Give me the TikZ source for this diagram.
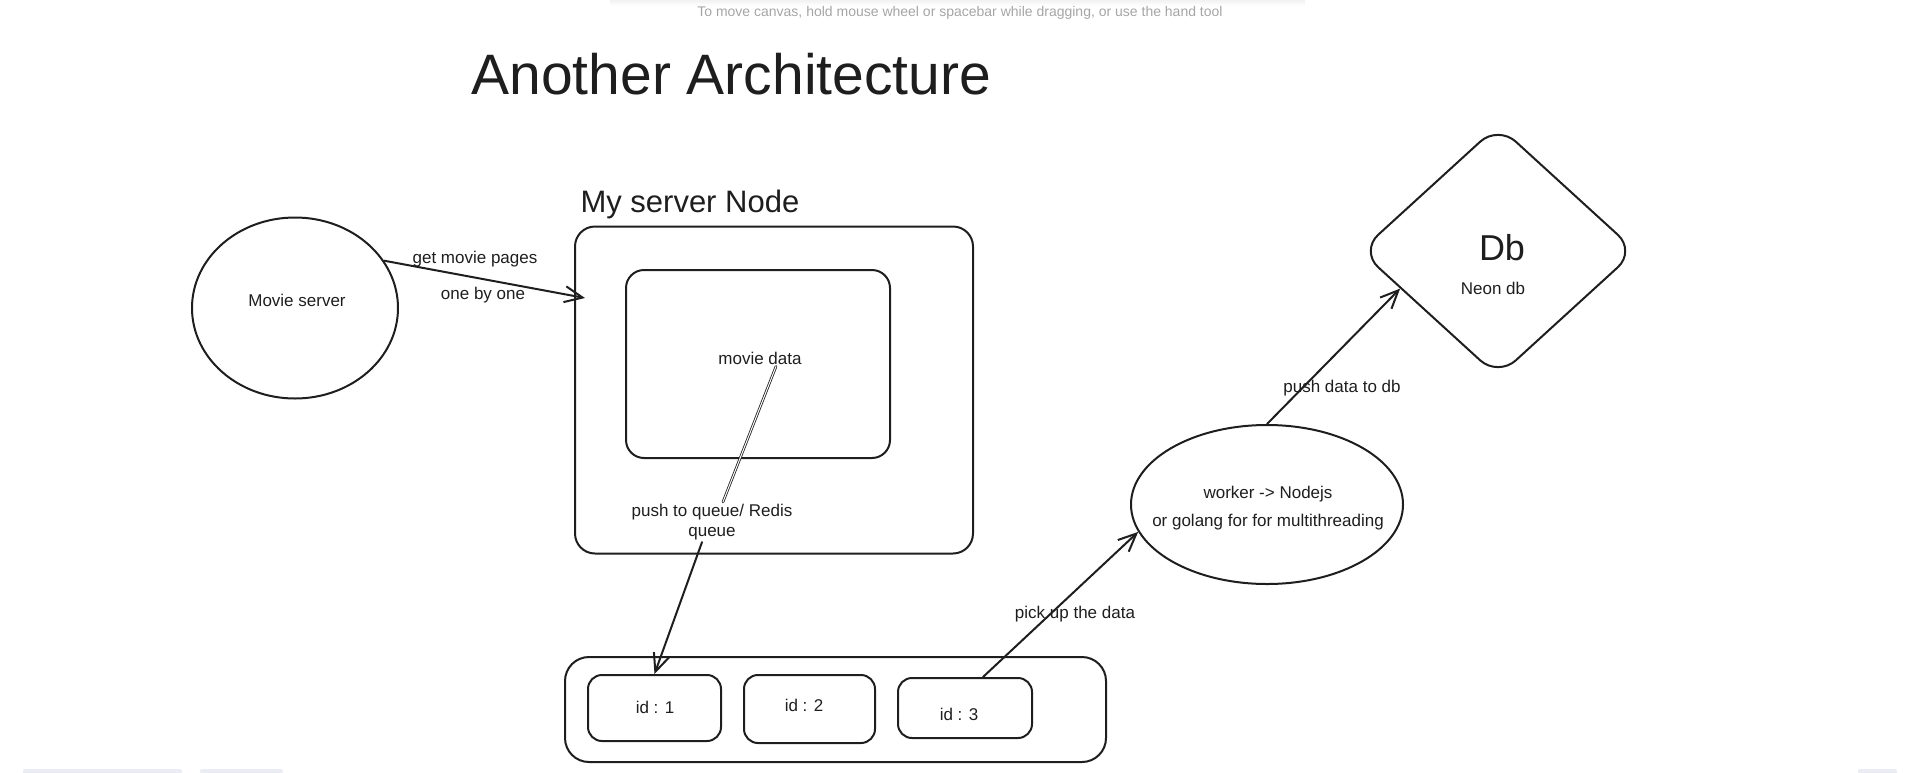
\documentclass[tikz,border=0pt]{standalone}
\usepackage{fontspec}
\setmainfont{Liberation Sans}
\usetikzlibrary{shapes.geometric,arrows.meta}
\definecolor{ink}{RGB}{30,30,30}
\definecolor{hintgray}{RGB}{165,165,165}
\definecolor{barlav}{RGB}{236,236,244}
\tikzset{
  box/.style={draw=ink, line width=2pt, rounded corners=18pt},
  blob/.style={draw=ink, line width=2pt, ellipse},
  lbl/.style={text=ink, align=center, inner sep=2pt, font=\fontsize{17}{20}\selectfont},
  link/.style={draw=ink, line width=2pt}
}
\begin{document}
\begin{tikzpicture}
[x=1pt, y=-1pt, line join=round, line cap=round, >={Straight Barb[length=18pt,width=16pt]}]
\useasboundingbox (0,0) rectangle (1920,772);
% canvas bits
\shade[top color=black!5, bottom color=white] (610,0) rectangle (1305,6);
\foreach \a/\b in {23/182,200/283,1858/1897}
\fill[barlav, rounded corners=2pt] (\a,769) rectangle (\b,780);
\node[text=hintgray, font=\fontsize{14}{16}\selectfont] (hint) at (960,13) {To move canvas, hold mouse wheel or spacebar while dragging, or use the hand tool};
\node[anchor=base west, text=ink, font=\fontsize{57}{60}\selectfont] (title) at (468,94) {Another Architecture};

% movie server
\node[blob, minimum width=206pt, minimum height=181pt] (msrv) at (295,308) {};
\node[lbl] (msrvt) at (297,300) {Movie server};

% my server node
\node[anchor=base west, text=ink, font=\fontsize{31}{34}\selectfont] (srvt) at (577,212) {My server Node};
\node[box, rounded corners=20pt, minimum width=398pt, minimum height=327pt] (srv) at (774,390) {};
\node[box, minimum width=264pt, minimum height=188pt] (mdbox) at (758,364) {};
\node[lbl] (mdata) at (760,358) {movie data};
\node[lbl, font=\fontsize{17}{20}\selectfont] (pushq) at (712,522) {push to queue/ Redis\\queue};
\coordinate (gettip) at (585,298);
\draw[link, ->] (msrv.28) -- (gettip);
\node[lbl] (getl) at (475,259) {get movie pages};
\node[lbl] (onel) at (483,295) {one by one};
\draw[ink, line width=0.8pt, double=white, double distance=1pt] ([xshift=16pt]mdata.south) -- ([xshift=11pt]pushq.north);

% queue
\node[box, rounded corners=24pt, minimum width=541pt, minimum height=105pt] (queue) at (835.5,709.5) {};
\foreach \i/\cx/\cy/\w/\h/\tx/\ty in {1/654.5/708/133/66/655/707, 2/809.5/709/131/68/804/705, 3/965/708/134/60/959/714}{
\node[box, rounded corners=14pt, minimum width=\w pt, minimum height=\h pt] (id\i) at (\cx,\cy) {};
\node[lbl] (idt\i) at (\tx,\ty) {id : \i};
}
\draw[link, ->] ([xshift=-10pt]pushq.south) -- (id1.north);

% worker
\node[blob, minimum width=272pt, minimum height=159pt] (wk) at (1267,504.5) {};
\node[lbl, font=\fontsize{17}{28}\selectfont] (wkt) at (1268,508) {worker -> Nodejs\\or golang for for multithreading};
\draw[link, ->] ([xshift=18pt]id3.north) -- (wk.192);
\node[lbl] (pickl) at (1075,614) {pick up the data};

% db
\node[draw=ink, line width=2pt, diamond, rounded corners=24pt, minimum width=276pt, minimum height=252pt] (db) at (1498,251) {};
\node[text=ink, font=\fontsize{36}{40}\selectfont] (dbt) at (1502,248) {Db};
\node[lbl] (neon) at (1493,288) {Neon db};
\draw[link, ->] (wk.north) -- (db.201);
\node[lbl] (pushl) at (1342,388) {push data to db};
\end{tikzpicture}
\end{document}
